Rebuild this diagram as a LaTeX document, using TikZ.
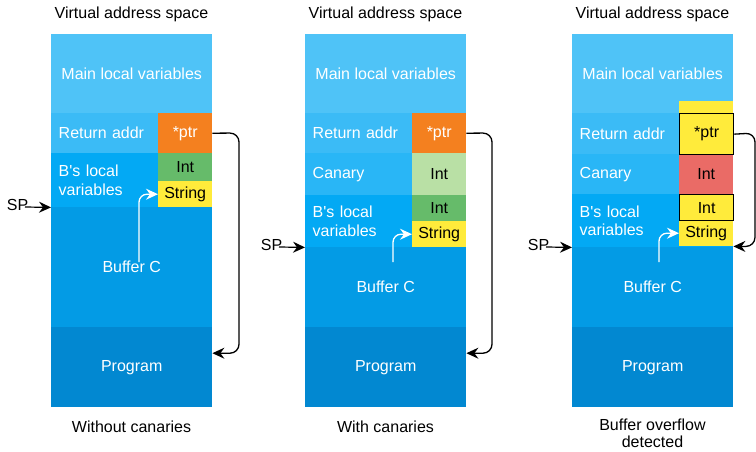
\documentclass[tikz,border=0pt]{standalone}
\usepackage{fontspec}
\setmainfont{Liberation Sans}
\usetikzlibrary{arrows.meta}

\definecolor{mainc}{HTML}{4FC3F7}
\definecolor{retc}{HTML}{3BBBF6}
\definecolor{canc}{HTML}{29B6F6}
\definecolor{bvarc}{HTML}{03A9F4}
\definecolor{bufc}{HTML}{039BE5}
\definecolor{progc}{HTML}{0288D1}
\definecolor{ptrc}{HTML}{F4801F}
\definecolor{intc}{HTML}{66BB6A}
\definecolor{intlc}{HTML}{B9E0A5}
\definecolor{strc}{HTML}{FFEB3B}
\definecolor{redc}{HTML}{EA6B66}

\begin{document}
\begin{tikzpicture}[x=1pt,y=-1pt,
  font=\fontsize{16}{18.5}\selectfont,
  blk/.style={anchor=north west, minimum width=161pt, inner sep=0pt,
    text=white, align=center},
  blkl/.style={blk, text width=146pt, inner xsep=7.5pt, align=left},
  cell/.style={anchor=north west, minimum width=54pt, inner sep=0pt,
    text=black},
  edged/.style={draw=black, line width=1.3pt},
  tip/.style={-{Stealth[length=12pt,width=11pt,inset=4pt]}},
  conn/.style={tip, draw=black, line width=1.3pt, rounded corners=9pt},
  spline/.style={tip, draw=black, line width=1.2pt},
  bufarrow/.style={tip, draw=white, line width=1.3pt, rounded corners=8pt},
  lbl/.style={inner sep=0pt, text=black}
]
\useasboundingbox (0,0) rectangle (756,451);

% ---------- Stack without canaries ----------
\node[lbl] (t1) at (131.5,14.5) {Virtual address space};
\node[blk, minimum height=79pt, fill=mainc] (m1) at (51,34) {Main local variables};
\node[blkl, minimum height=40pt, fill=retc] (r1) at (51,113) {Return addr};
\node[blkl, minimum height=54pt, fill=bvarc] (b1) at (51,153) {B\textquotesingle s local\\variables};
\node[blk, minimum height=120pt, fill=bufc] (u1) at (51,207) {Buffer C};
\node[blk, minimum height=80pt, fill=progc] (p1) at (51,327) {Program};
\node[cell, minimum height=40pt, fill=ptrc, text=white] (ptr1) at (158,113) {*ptr};
\node[cell, minimum height=28pt, fill=intc] (int1) at (158,153) {Int};
\node[cell, minimum height=26pt, fill=strc] (str1) at (158,181) {String};
\node[lbl] (c1) at (131.5,427) {Without canaries};

\node[lbl, anchor=south] (sp1) at (17.5,211) {SP};
\coordinate (sps1) at (25,207);
\draw[spline] (sps1) -- (b1.south west);
\coordinate (bs1) at (139,262);
\draw[bufarrow] (bs1) |- (str1.west);
\coordinate (rt1) at (239,133);
\draw[conn] (ptr1.east) -- (rt1) |- ([yshift=14pt]p1.east);

% ---------- Stack with canaries ----------
\node[lbl] (t2) at (385.5,14.5) {Virtual address space};
\node[blk, minimum height=79pt, fill=mainc] (m2) at (305,34) {Main local variables};
\node[blkl, minimum height=40pt, fill=retc] (r2) at (305,113) {Return addr};
\node[blkl, minimum height=42pt, fill=canc] (k2) at (305,153) {Canary};
\node[blkl, minimum height=52pt, fill=bvarc] (b2) at (305,195) {B\textquotesingle s local\\variables};
\node[blk, minimum height=80pt, fill=bufc] (u2) at (305,247) {Buffer C};
\node[blk, minimum height=80pt, fill=progc] (p2) at (305,327) {Program};
\node[cell, minimum height=40pt, fill=ptrc, text=white] (ptr2) at (412,113) {*ptr};
\node[cell, minimum height=42pt, fill=intlc] (can2) at (412,153) {Int};
\node[cell, minimum height=26pt, fill=intc] (int2) at (412,195) {Int};
\node[cell, minimum height=26pt, fill=strc] (str2) at (412,221) {String};
\node[lbl] (c2) at (385.5,427) {With canaries};

\node[lbl, anchor=south] (sp2) at (271.5,251) {SP};
\coordinate (sps2) at (279,247);
\draw[spline] (sps2) -- (b2.south west);
\coordinate (bs2) at (393,262);
\draw[bufarrow] (bs2) |- (str2.west);
\coordinate (rt2) at (492,133);
\draw[conn] (ptr2.east) -- (rt2) |- ([yshift=14pt]p2.east);

% ---------- Overflow reaching the canary ----------
\node[lbl] (t3) at (652.5,14.5) {Virtual address space};
\node[blk, minimum height=79pt, fill=mainc] (m3) at (572,34) {Main local variables};
\node[blkl, minimum height=41pt, fill=retc] (r3) at (572,113) {Return addr};
\node[blkl, minimum height=40pt, fill=canc] (k3) at (572,154) {Canary};
\node[blkl, minimum height=53pt, fill=bvarc] (b3) at (572,194) {B\textquotesingle s local\\variables};
\node[blk, minimum height=80pt, fill=bufc] (u3) at (572,247) {Buffer C};
\node[blk, minimum height=80pt, fill=progc] (p3) at (572,327) {Program};
\node[cell, minimum height=12pt, fill=strc] (top3) at (679,101) {};
\node[cell, minimum height=26pt, fill=strc] (str3) at (679,220) {String};
\node[cell, minimum height=40pt, fill=redc] (can3) at (679,154) {Int};
\node[cell, minimum height=41pt, fill=strc, edged] (ptr3) at (679,113) {*ptr};
\node[cell, minimum height=26pt, fill=strc, edged] (int3) at (679,194) {Int};
\node[lbl, align=center, font=\fontsize{16}{17}\selectfont] (c3) at (652.5,433.5) {Buffer overflow\\detected};

\node[lbl, anchor=south] (sp3) at (538.5,251) {SP};
\coordinate (sps3) at (546,247);
\draw[spline] (sps3) -- (b3.south west);
\coordinate (bs3) at (659,262);
\draw[bufarrow] (bs3) |- (str3.west);
\coordinate (rt3) at (755,133);
\draw[conn] (ptr3.east) -- (rt3) |- (str3.south east);
\end{tikzpicture}
\end{document}
